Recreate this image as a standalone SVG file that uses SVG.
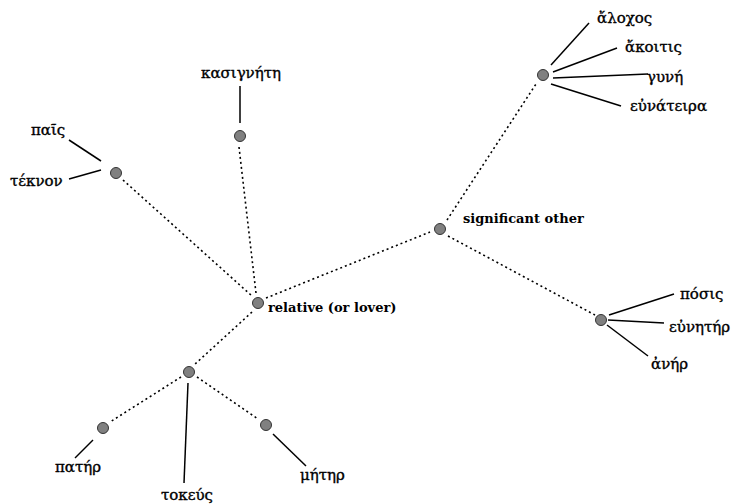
<svg xmlns="http://www.w3.org/2000/svg" width="736" height="504" viewBox="0 0 736 504">
<style>
.n{fill:#808080;stroke:#333;stroke-width:1}
.d{stroke:#000;stroke-width:1.6;stroke-dasharray:2,3;fill:none}
.s{stroke:#000;stroke-width:1.5;fill:none}
.g{font-family:'DejaVu Serif',serif;font-size:15px;fill:#000;stroke:#000;stroke-width:0.35}
.b{font-family:'DejaVu Serif',serif;font-size:13px;font-weight:bold;fill:#000}
</style>
<rect width="736" height="504" fill="#fff"/>
<g id="connectors">
<line class="d" x1="123" y1="180" x2="252" y2="296"/>
<line class="d" x1="239" y1="147" x2="256" y2="293"/>
<line class="d" x1="266" y1="298" x2="430" y2="232"/>
<line class="d" x1="252" y1="312" x2="194" y2="365"/>
<line class="d" x1="447" y1="220" x2="536" y2="84"/>
<line class="d" x1="448" y1="236" x2="595" y2="315"/>
<line class="d" x1="181" y1="377" x2="110" y2="422"/>
<line class="d" x1="197" y1="377" x2="258" y2="419"/>
<line class="s" x1="69" y1="140" x2="101" y2="161"/>
<line class="s" x1="69" y1="179" x2="101" y2="170"/>
<line class="s" x1="240" y1="86" x2="240" y2="123"/>
<line class="s" x1="551" y1="65" x2="589" y2="23"/>
<line class="s" x1="553" y1="72" x2="617" y2="48"/>
<line class="s" x1="553" y1="78" x2="648" y2="74"/>
<line class="s" x1="551" y1="84" x2="621" y2="106"/>
<line class="s" x1="609" y1="315" x2="674" y2="294"/>
<line class="s" x1="608" y1="320" x2="664" y2="323"/>
<line class="s" x1="607" y1="325" x2="648" y2="356"/>
<line class="s" x1="188" y1="383" x2="184" y2="483"/>
<line class="s" x1="93" y1="440" x2="75" y2="458"/>
<line class="s" x1="273" y1="434" x2="306" y2="466"/>
</g>
<g id="parent"><circle class="n" cx="116" cy="173" r="5.5"/></g>
<g id="pais"><text class="g" x="31" y="135">παῖς</text></g>
<g id="teknon"><text class="g" x="10" y="186">τέκνον</text></g>
<g id="kasignete-node"><circle class="n" cx="240" cy="136" r="5.5"/></g>
<g id="kasignete"><text class="g" x="241" y="78" text-anchor="middle">κασιγνήτη</text></g>
<g id="relative"><circle class="n" cx="258" cy="303" r="5.5"/><text class="b" x="268" y="312">relative (or lover)</text></g>
<g id="significant"><circle class="n" cx="440" cy="229" r="5.5"/><text class="b" x="463" y="223">significant other</text></g>
<g id="wife"><circle class="n" cx="543" cy="75" r="5.5"/></g>
<g id="alochos"><text class="g" x="597" y="23">ἄλοχος</text></g>
<g id="akoitis"><text class="g" x="625" y="52">ἄκοιτις</text></g>
<g id="gyne"><text class="g" x="647" y="82">γυνή</text></g>
<g id="eunateira"><text class="g" x="630" y="111">εὐνάτειρα</text></g>
<g id="husband"><circle class="n" cx="601" cy="320" r="5.5"/></g>
<g id="posis"><text class="g" x="680" y="299">πόσις</text></g>
<g id="eunetor"><text class="g" x="669" y="332">εὐνητήρ</text></g>
<g id="aner"><text class="g" x="651" y="369">ἀνήρ</text></g>
<g id="tokeus-node"><circle class="n" cx="189" cy="372" r="5.5"/></g>
<g id="tokeus"><text class="g" x="187" y="500" text-anchor="middle">τοκεύς</text></g>
<g id="pater-node"><circle class="n" cx="103" cy="428" r="5.5"/></g>
<g id="pater"><text class="g" x="55" y="472">πατήρ</text></g>
<g id="meter-node"><circle class="n" cx="266" cy="425" r="5.5"/></g>
<g id="meter"><text class="g" x="300" y="480">μήτηρ</text></g>
</svg>
